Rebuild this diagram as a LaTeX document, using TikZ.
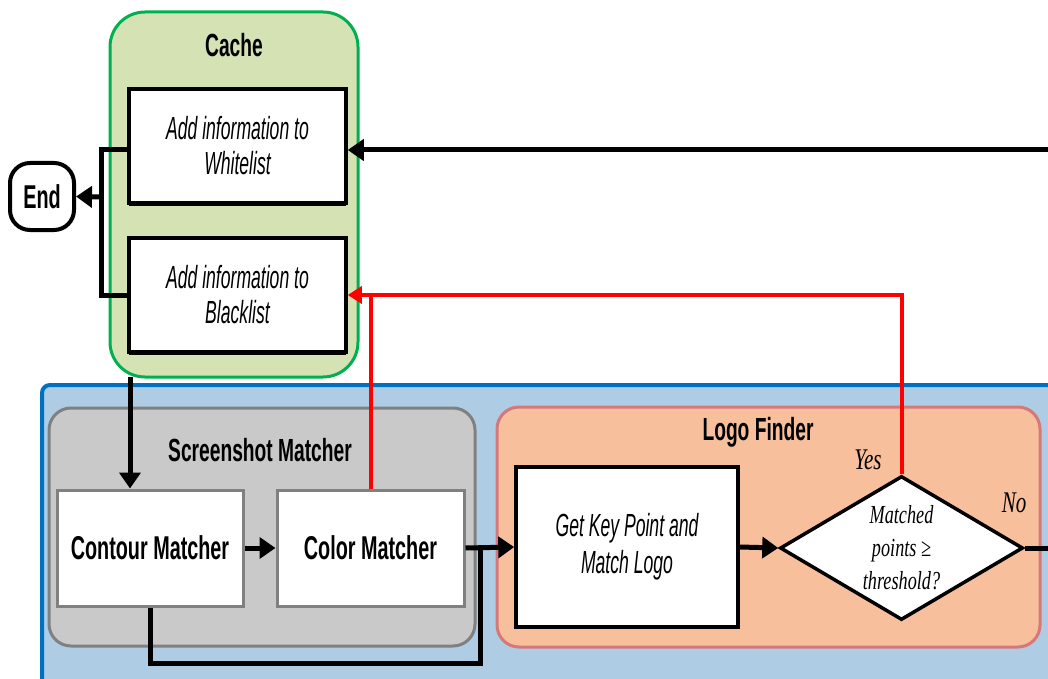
\documentclass[tikz,border=0pt]{standalone}
\usepackage{fontspec}
\setmainfont{Liberation Sans}[FakeStretch=0.6]
\newfontfamily\stepfont{Liberation Sans}[FakeStretch=0.55]
\newfontfamily\decfont{Liberation Serif}[FakeStretch=0.7]
\usetikzlibrary{shapes.geometric,arrows.meta,shadows}

\definecolor{cachefill}{RGB}{212,226,180}
\definecolor{cacheedge}{RGB}{0,176,80}
\definecolor{bluefill}{RGB}{174,205,229}
\definecolor{blueedge}{RGB}{0,112,192}
\definecolor{grayfill}{RGB}{201,201,201}
\definecolor{grayedge}{RGB}{128,128,128}
\definecolor{logofill}{RGB}{248,191,156}
\definecolor{logoedge}{RGB}{214,120,120}
\definecolor{flowred}{RGB}{255,0,0}

\tikzset{
  group/.style={rounded corners=22pt, line width=3pt, inner sep=0pt},
  title/.style={font=\bfseries\fontsize{32}{34}\selectfont, inner sep=0pt},
  cachebox/.style={draw=black, fill=white, line width=3.5pt, inner sep=0pt,
    minimum width=217pt, minimum height=114pt, align=center,
    font=\stepfont\itshape\fontsize{32}{35}\selectfont,
    drop shadow={shadow xshift=0pt, shadow yshift=-3pt, fill=black, opacity=1}},
  matchbox/.style={draw=grayedge, fill=white, line width=3pt, inner sep=0pt,
    minimum width=186pt, minimum height=116pt,
    font=\bfseries\fontsize{33}{35}\selectfont,
    drop shadow={shadow xshift=1pt, shadow yshift=-2pt, fill=grayedge, opacity=1}},
  flow/.style={draw=black, line width=5pt},
  arr/.style={flow, -{Triangle[length=16pt,width=21pt]}},
  redflow/.style={draw=flowred, line width=4pt},
  redarr/.style={redflow, -{Triangle[length=14pt,width=17pt]}},
  answer/.style={font=\decfont\itshape\fontsize{30}{32}\selectfont, inner sep=0pt}
}

\begin{document}
\begin{tikzpicture}[x=1pt,y=-1pt]
\useasboundingbox (0,0) rectangle (1048,679);
\clip (0,0) rectangle (1048,679);

% containers
\node[draw=blueedge, fill=bluefill, line width=4pt, rounded corners=8pt,
      minimum width=1058pt, minimum height=334pt, inner sep=0pt] (pipeline) at (571,552) {};
\node[group, draw=cacheedge, fill=cachefill, rounded corners=35pt,
      minimum width=248pt, minimum height=365pt] (cache) at (234,194.5) {};
\node[group, draw=grayedge, fill=grayfill,
      minimum width=426pt, minimum height=238pt] (shot) at (262,527) {};
\node[group, draw=logoedge, fill=logofill,
      minimum width=543pt, minimum height=240pt] (logo) at (768.5,527) {};

% titles
\node[title] (cachet) at (234,45) {Cache};
\node[title] (shott) at (260,450) {Screenshot Matcher};
\node[title] (logot) at (758,432) {Logo Finder};

% cache steps
\node[cachebox] (white) at (237.5,146) {Add information to\\Whitelist};
\node[cachebox] (black) at (237.5,295) {Add information to\\Blacklist};

% terminal
\node[draw=black, fill=white, line width=4pt, rounded corners=20pt,
      minimum width=64pt, minimum height=67pt, inner sep=0pt,
      font=\bfseries\fontsize{33}{35}\selectfont] (endn) at (42,196.5) {End};

% screenshot matcher steps
\node[matchbox] (contour) at (150,548) {Contour Matcher};
\node[matchbox, minimum width=187pt] (color) at (370.5,548) {Color Matcher};

% logo finder steps
\node[draw=black, fill=white, line width=3.5pt, inner sep=0pt,
      minimum width=222pt, minimum height=160pt, align=center,
      font=\stepfont\itshape\fontsize{32}{37}\selectfont] (getkey) at (627,547)
      {Get Key Point and\\Match Logo};
\node[diamond, draw=black, fill=white, line width=3.5pt, aspect=1.69, inner sep=0pt,
      minimum width=243pt, minimum height=144pt, align=center,
      font=\decfont\itshape\fontsize{26}{33}\selectfont] (dec) at (901.5,548)
      {Matched\\points ≥\\threshold?};

\node[answer] (yes) at (868,460) {Yes};
\node[answer] (no) at (1014,503) {No};

% free ends and junctions
\coordinate (rin) at (1060,150);
\coordinate (rout) at (1060,548);
\coordinate (bus) at (101,197);
\coordinate (cdown) at (130,377);
\coordinate (jn) at (480,548);
\coordinate (low) at (480,663);

% connectors
\draw[arr] (rin) -- (rin -| white.east);
\draw[flow] (white.west |- 0,150) -| (bus) |- (black.west);
\draw[arr] (bus) -- (endn.east);
\draw[redflow] (color.north) -- (color.north |- black.east);
\draw[redarr] (dec.north) |- (black.east);
\draw[arr] (cdown) -- (cdown |- contour.north);
\draw[arr] (contour.east) -- (contour.east -| color.west);
\draw[arr] (color.east) -- (getkey.west);
\draw[flow] (contour.south) |- (low) -- (jn);
\draw[arr] (getkey.east) -- (dec.west);
\draw[flow] (dec.east) -- (rout);
\end{tikzpicture}
\end{document}
